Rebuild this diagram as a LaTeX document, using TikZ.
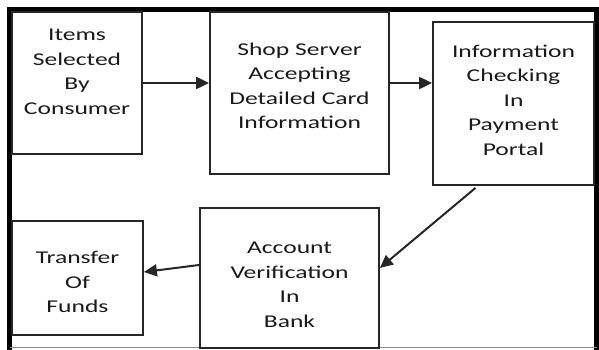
\documentclass[tikz,border=0pt]{standalone}
\usepackage{fontspec}
\setmainfont[FakeStretch=1.42]{Carlito}
\usetikzlibrary{arrows.meta,positioning}
\begin{document}
\begin{tikzpicture}[x=1pt,y=1pt,
	stage/.style={draw=black!85, line width=1.8pt, rectangle, inner sep=0pt},
	stagetext/.style={align=center, text=black!90, font=\fontsize{18}{24.5}\selectfont},
	flow/.style={-{Triangle[length=13pt,width=12pt]}, line width=2pt, draw=black!85}]
	\useasboundingbox (0,0) rectangle (599,350);
	% outer frame
	\draw[line width=5pt] (9.5,0) -- (9.5,340.5) -- (596.5,340.5) -- (596.5,0);
	\draw[black!45, line width=1pt] (9.5,2) -- (596.5,2);
	% stages
	\node[stage, minimum width=130pt, minimum height=142pt] (b1) at (77,267) {};
	\node[stage, minimum width=179pt, minimum height=162pt] (b2) at (299.5,257) {};
	\node[stage, minimum width=161pt, minimum height=163pt] (b3) at (513.5,246.5) {};
	\node[stage, minimum width=179pt, minimum height=140pt] (b4) at (289.5,72) {};
	\node[stage, minimum width=131pt, minimum height=114pt] (b5) at (77.5,72) {};
	\node[stagetext] (t1) at ([yshift=11pt]b1.center) {Items\\Selected\\By\\Consumer};
	\node[stagetext] (t2) at ([yshift=7pt]b2.center) {Shop Server\\Accepting\\Detailed Card\\Information};
	\node[stagetext] (t3) at ([yshift=3.5pt]b3.center) {Information\\Checking\\In\\Payment\\Portal};
	\node[stagetext] (t4) at ([yshift=-7pt]b4.center) {Account\\Verification\\In\\Bank};
	\node[stagetext] (t5) at ([yshift=-4pt]b5.center) {Transfer\\Of\\Funds};
	% arrows
	\draw[flow] (b1.east) -- (b1.east -| b2.west);
	\draw[flow] ([yshift=10pt]b2.east) -- ([yshift=10pt]b2.east -| b3.west);
	\draw[flow] ([xshift=-38pt,yshift=-2pt]b3.south) -- ([yshift=10pt]b4.east);
	\draw[flow] ([yshift=13pt]b4.west) -- ([yshift=6pt]b5.east);
\end{tikzpicture}
\end{document}
